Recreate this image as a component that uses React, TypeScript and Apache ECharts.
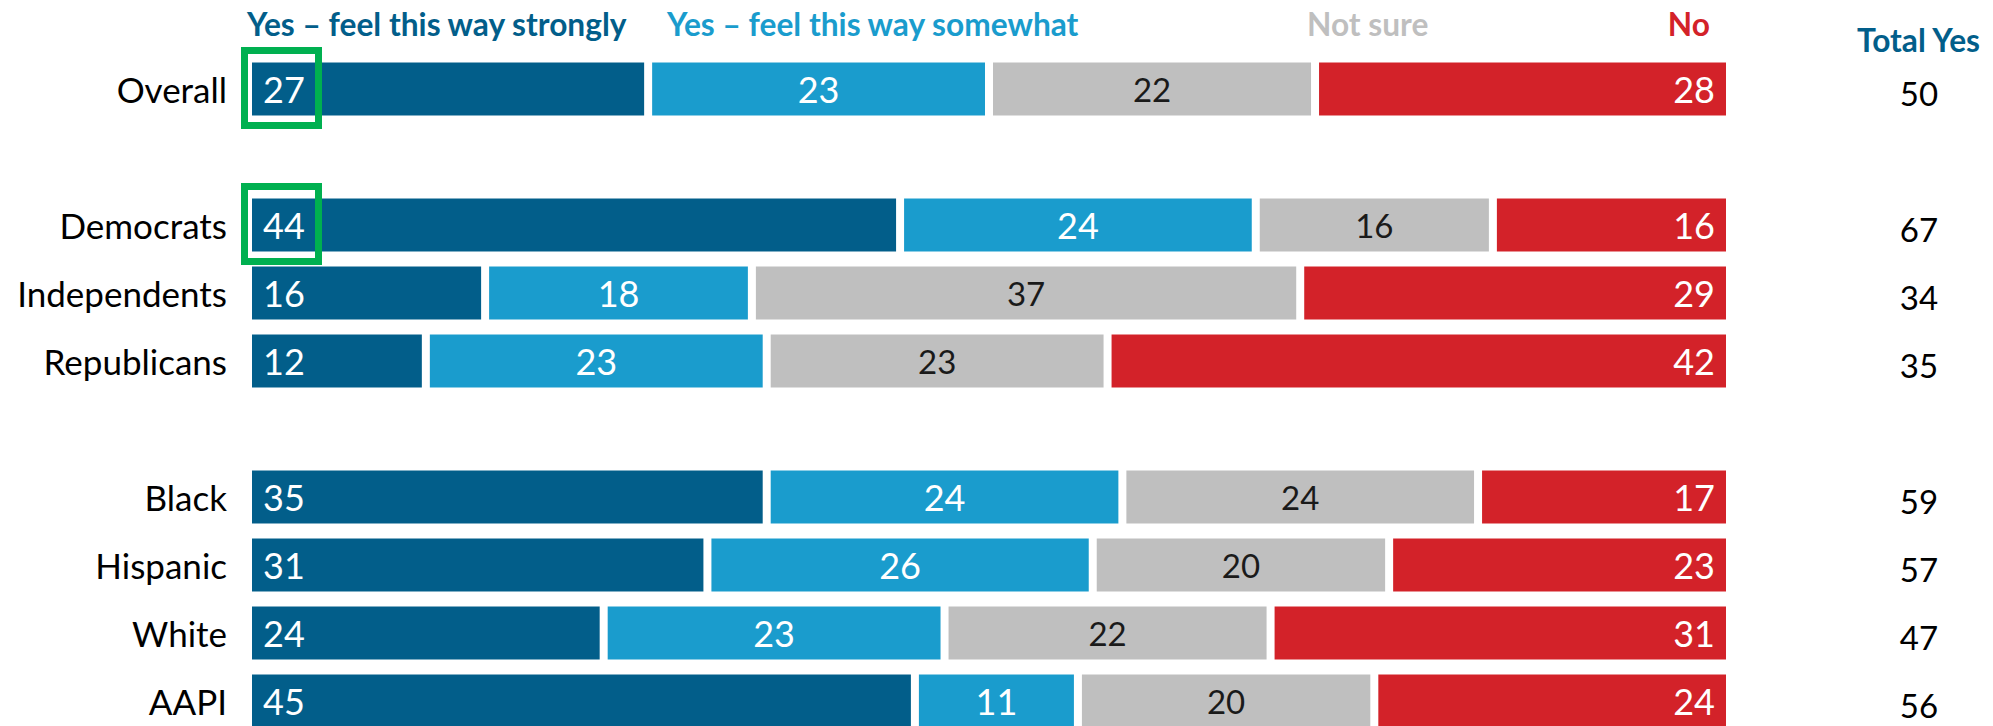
import React, { useEffect, useRef } from "react";
import * as echarts from "echarts";

const categories = ["Overall", " ", "Democrats", "Independents", "Republicans", "  ", "Black", "Hispanic", "White", "AAPI"];
const strongly = [27, null, 44, 16, 12, null, 35, 31, 24, 45];
const somewhat = [23, null, 24, 18, 23, null, 24, 26, 23, 11];
const notSure = [22, null, 16, 37, 23, null, 24, 20, 22, 20];
const no = [28, null, 16, 29, 42, null, 17, 23, 31, 24];
const totalYes = [50, null, 67, 34, 35, null, 59, 57, 47, 56];
const highlightRows = ["Overall", "Democrats"];

const seriesNames = ["Yes – feel this way strongly", "Yes – feel this way somewhat", "Not sure", "No"];
const colors = ["#025e8a", "#1a9ccd", "#bfbfbf", "#d32229"];

const FONT = "Lato, sans-serif";

export default function App() {
  const ref = useRef<HTMLDivElement>(null);
  useEffect(() => {
    if (!ref.current) return;
    const chart = echarts.init(ref.current, null, { renderer: "svg" });
    const mk = (d: (number | null)[]) => d.map((v) => (v == null ? "-" : v));
    const barCommon = {
      type: "bar",
      stack: "total",
      barWidth: 61,
      xAxisIndex: 0,
      yAxisIndex: 0,
      itemStyle: { borderColor: "#ffffff", borderWidth: 4 },
    };
    const labelBase = { show: true, fontSize: 36, fontFamily: FONT };
    const head = (text: string, fill: string, extra: any) => ({
      type: "text",
      ...extra,
      style: { text, fill, fontSize: 31.7, fontWeight: "bold", fontFamily: FONT },
    });
    chart.setOption({
      animation: false,
      backgroundColor: "#ffffff",
      grid: [
        { left: 248, width: 1482, top: 55, height: 680, containLabel: false, outerBoundsMode: "none" },
        { left: 1860, width: 118, top: 55, height: 680, containLabel: false, outerBoundsMode: "none" },
      ],
      xAxis: [
        { type: "value", min: 0, max: 100, show: false, gridIndex: 0 },
        { type: "value", min: 0, max: 1, show: false, gridIndex: 1 },
      ],
      yAxis: [
        {
          type: "category",
          gridIndex: 0,
          inverse: true,
          data: categories,
          axisLine: { show: false },
          axisTick: { show: false },
          splitLine: { show: false },
          axisLabel: { fontSize: 35, color: "#000000", margin: 21, fontFamily: FONT },
        },
        {
          type: "category",
          gridIndex: 1,
          inverse: true,
          data: categories,
          show: false,
        },
      ],
      series: [
        {
          ...barCommon,
          name: seriesNames[0],
          data: mk(strongly),
          itemStyle: { ...barCommon.itemStyle, color: colors[0] },
          label: { ...labelBase, position: "insideLeft", distance: 15, color: "#ffffff" },
        },
        {
          ...barCommon,
          name: seriesNames[1],
          data: mk(somewhat),
          itemStyle: { ...barCommon.itemStyle, color: colors[1] },
          label: { ...labelBase, position: "inside", color: "#ffffff" },
        },
        {
          ...barCommon,
          name: seriesNames[2],
          data: mk(notSure),
          itemStyle: { ...barCommon.itemStyle, color: colors[2] },
          label: { ...labelBase, position: "inside", color: "#1a1a1a", fontSize: 33 },
        },
        {
          ...barCommon,
          name: seriesNames[3],
          data: mk(no),
          itemStyle: { ...barCommon.itemStyle, color: colors[3] },
          label: { ...labelBase, position: "insideRight", distance: 15, color: "#ffffff" },
        },
        {
          type: "bar",
          name: "Total Yes",
          xAxisIndex: 1,
          yAxisIndex: 1,
          barWidth: 61,
          data: totalYes.map((v) => (v == null ? "-" : 1)),
          itemStyle: { color: "rgba(0,0,0,0)" },
          label: {
            show: true,
            position: "inside",
            offset: [0, 4],
            color: "#000000",
            fontSize: 33,
            fontFamily: FONT,
            formatter: (p: any) => String(totalYes[p.dataIndex]),
          },
        },
      ],
      graphic: [
        head(seriesNames[0], "#025e8a", { left: 247, top: 8 }),
        head(seriesNames[1], "#1a9ccd", { left: 667, top: 8 }),
        head(seriesNames[2], "#bfbfbf", { left: 1307, top: 8 }),
        head(seriesNames[3], "#d32229", { right: 1993 - 1710, top: 8 }),
        head("Total Yes", "#025e8a", { left: 1857, top: 24 }),
      ],
    });

    const boxes = highlightRows.map((name) => {
      const idx = categories.indexOf(name);
      const pt = chart.convertToPixel({ xAxisIndex: 0, yAxisIndex: 0 }, [0, idx]) as number[];
      return {
        type: "rect",
        shape: { x: pt[0] - 3.5, y: pt[1] - 38.5, width: 74, height: 75 },
        style: { fill: "none", stroke: "#00b050", lineWidth: 7 },
        z: 100,
      };
    });
    chart.setOption({ graphic: [{}, {}, {}, {}, {}, ...boxes] });

    return () => chart.dispose();
  }, []);
  return <div ref={ref} style={{ position: "fixed", left: 0, top: 0, width: 1993, height: 726 }} />;
}
